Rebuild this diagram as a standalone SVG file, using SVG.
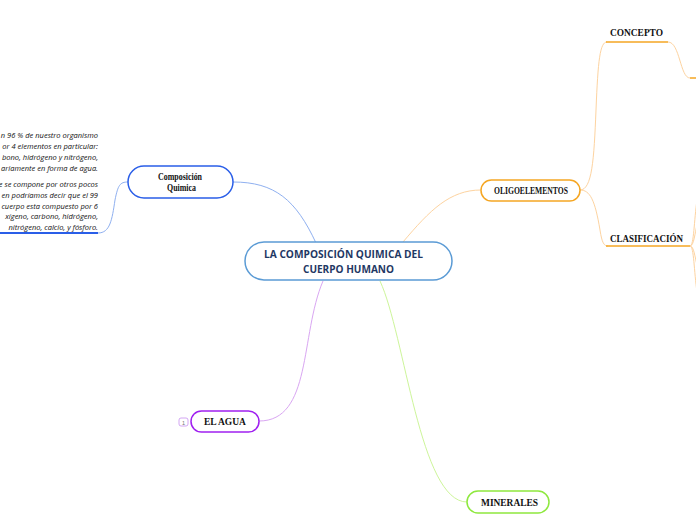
<svg xmlns="http://www.w3.org/2000/svg" width="696" height="520" viewBox="0 0 696 520">
<style>
.node{fill:#fff;stroke-width:1.5}
.lbl{font-family:"Liberation Serif",serif;font-weight:bold;font-size:9.8px;fill:#111}
.conn{fill:none;stroke-width:1}
.note{font-family:"Open Sans","Noto Sans",sans-serif;font-style:italic;font-size:7.5px;fill:#111;text-anchor:end}
.ctr{font-family:"Open Sans","Noto Sans",sans-serif;font-weight:bold;font-size:10.2px;fill:#1f3864}
</style>
<rect width="696" height="520" fill="#fff"/>
<g id="connectors">
<path class="conn" stroke="#8fb0f0" d="M233,182 C275,182 296,200 316,243"/>
<path class="conn" stroke="#fdd3a0" d="M403,242 C430,210 450,190 481,190"/>
<path class="conn" stroke="#d9a6f2" d="M323,281 C300,335 312,421 259,421"/>
<path class="conn" stroke="#cdf59a" d="M380,281 C405,335 420,502 467,502"/>
<path class="conn" stroke="#8fb0f0" d="M98,233 C110,233 112,220 115,200 C118,185 120,182 128,182"/>
<path class="conn" stroke="#fdd3a0" d="M580,190 C592,190 594,160 596,110 C598,60 600,42 607,42"/>
<path class="conn" stroke="#fdd3a0" d="M580,190 C590,190 595,200 600,230 C602,243 604,246 608,246"/>
<path class="conn" stroke="#fdd3a0" d="M668,42 C680,42 680,78 690,78"/>
<path class="conn" stroke="#fdd3a0" d="M690,246 C694,246 694,220 697,200"/>
<path class="conn" stroke="#fdd3a0" d="M690,246 C694,246 695,232 697,225"/>
<path class="conn" stroke="#fdd3a0" d="M690,246 C694,246 695,258 697,265"/>
<path class="conn" stroke="#fdd3a0" d="M690,246 C694,246 694,272 697,292"/>
</g>
<g id="center">
<rect class="node" x="245" y="242" width="207" height="38" rx="19" stroke="#5b9bd5"/>
<text class="ctr" x="264" y="258" textLength="159" lengthAdjust="spacingAndGlyphs">LA COMPOSICIÓN QUIMICA DEL</text>
<text class="ctr" x="303" y="273" textLength="91" lengthAdjust="spacingAndGlyphs">CUERPO HUMANO</text>
</g>
<g id="composicion">
<rect class="node" x="128" y="166" width="105" height="32" rx="16" stroke="#2a5ee8"/>
<text class="lbl" x="158" y="180" font-size="7" textLength="44" lengthAdjust="spacingAndGlyphs">Composición</text>
<text class="lbl" x="167" y="191" font-size="7" textLength="29" lengthAdjust="spacingAndGlyphs">Quimica</text>
</g>
<g id="nota">
<text class="note" x="98" y="138">n 96 % de nuestro organismo</text>
<text class="note" x="98" y="149">or 4 elementos en particular:</text>
<text class="note" x="98" y="160">bono, hidrógeno y nitrógeno,</text>
<text class="note" x="98" y="171">ariamente en forma de agua.</text>
<text class="note" x="98" y="187">e se compone por otros pocos</text>
<text class="note" x="98" y="198">en podríamos decir que el 99</text>
<text class="note" x="98" y="209">cuerpo esta compuesto por 6</text>
<text class="note" x="98" y="219">xígeno, carbono, hidrógeno,</text>
<text class="note" x="98" y="230">nitrógeno, calcio, y fósforo.</text>
<line x1="0" y1="233" x2="98" y2="233" stroke="#2a5ee8" stroke-width="2"/>
</g>
<g id="oligoelementos">
<rect class="node" x="481" y="180" width="99" height="21" rx="10.5" stroke="#f5a623"/>
<text class="lbl" x="494" y="194" font-size="8" textLength="74" lengthAdjust="spacingAndGlyphs">OLIGOELEMENTOS</text>
</g>
<g id="concepto">
<text class="lbl" x="610" y="36" textLength="53" lengthAdjust="spacingAndGlyphs">CONCEPTO</text>
<line x1="606" y1="42" x2="668" y2="42" stroke="#f5a623" stroke-width="1.5"/>
<line x1="690" y1="78" x2="696" y2="78" stroke="#f5a623" stroke-width="1.5"/>
</g>
<g id="clasificacion">
<text class="lbl" x="610" y="242" textLength="73" lengthAdjust="spacingAndGlyphs">CLASIFICACIÓN</text>
<line x1="606" y1="246" x2="690" y2="246" stroke="#f5a623" stroke-width="1.5"/>
</g>
<g id="agua">
<rect x="179" y="418" width="9" height="8" rx="2" fill="#fff" stroke="#c890f0" stroke-width="0.8"/>
<text x="183.5" y="424.5" font-family="'Liberation Sans',sans-serif" font-size="5.5" fill="#777" text-anchor="middle">1</text>
<rect class="node" x="191" y="411" width="68" height="21" rx="10.5" stroke="#a020f0"/>
<text class="lbl" x="204" y="425" textLength="42" lengthAdjust="spacingAndGlyphs">EL AGUA</text>
</g>
<g id="minerales">
<rect class="node" x="467" y="491" width="82" height="22" rx="11" stroke="#8ee83e"/>
<text class="lbl" x="481" y="505.5" textLength="57" lengthAdjust="spacingAndGlyphs">MINERALES</text>
</g>
</svg>
